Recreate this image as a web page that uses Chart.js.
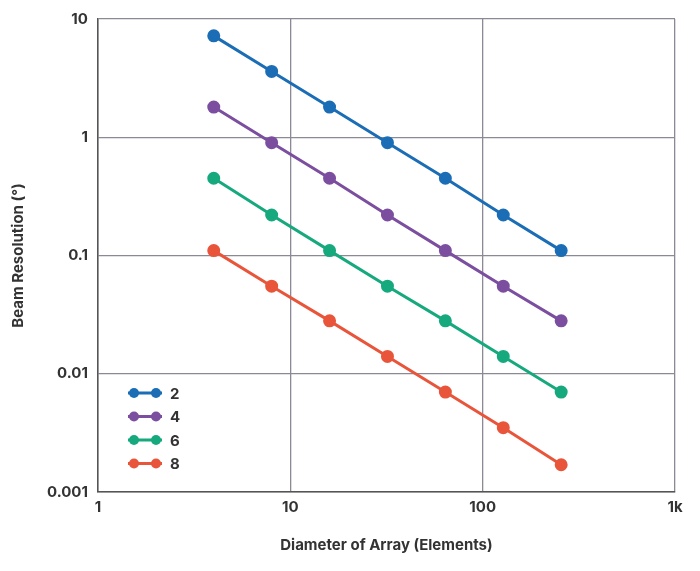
<!DOCTYPE html>
<html><head><meta charset="utf-8">
<script src="https://cdn.jsdelivr.net/npm/chart.js@4"></script>
<style>html,body{margin:0;padding:0;background:#fff}#w{width:700px;height:571px}</style>
</head><body><div id="w"><canvas id="c"></canvas></div>
<script>
const elements=[4,8,16,32,64,128,256];
const seriesNames=["2","4","6","8"];
const s2=[7.2,3.6,1.8,0.9,0.45,0.22,0.11];
const s4=[1.8,0.9,0.45,0.22,0.11,0.055,0.028];
const s6=[0.45,0.22,0.11,0.055,0.028,0.014,0.007];
const s8=[0.11,0.055,0.028,0.014,0.007,0.0035,0.0017];
const colors=["#1b6db5","#7c4e9f","#17a97e","#e9553a"];
const yTicks=[0.001,0.01,0.1,1,10];
const xTicks=[1,10,100,1000];
const xLabels={1:"1",10:"10",100:"100",1000:"1k"};
const all=[s2,s4,s6,s8];
const F="'Inter','Liberation Sans',sans-serif";
const legendPlugin={id:'lg',afterDraw(ch){const c=ch.ctx;c.save();
 all.forEach((_,i)=>{const y=393+i*23.5,x0=128,x1=162;c.strokeStyle=colors[i];c.lineWidth=3;
 c.beginPath();c.moveTo(x0,y);c.lineTo(x1,y);c.stroke();c.fillStyle=colors[i];
 [x0+6,x1-6].forEach(px=>{c.beginPath();c.arc(px,y,5,0,Math.PI*2);c.fill();});
 c.fillStyle="#333";c.font="bold 15px "+F;c.textBaseline="middle";c.fillText(seriesNames[i],170,y+1);});
 c.restore();}};
new Chart(document.getElementById('c'),{type:'line',
data:{datasets:all.map((d,i)=>({label:seriesNames[i],data:elements.map((x,j)=>({x,y:d[j]})),
 borderColor:colors[i],backgroundColor:colors[i],borderWidth:3,pointRadius:5,pointHoverRadius:5}))},
options:{responsive:true,maintainAspectRatio:false,animation:false,
 layout:{padding:{left:5,right:25,top:18,bottom:13}},
 plugins:{legend:{display:false},tooltip:{enabled:false}},
 scales:{
 x:{type:'logarithmic',min:1,max:1000,
  afterBuildTicks:a=>{a.ticks=xTicks.map(v=>({value:v}));},
  ticks:{callback:v=>xLabels[v]||"",color:"#333",font:{family:F,size:15,weight:'bold'},maxRotation:0,padding:6},
  grid:{color:"#8a8a96",lineWidth:1.3,drawTicks:false},border:{color:"#555",width:1.5},
  title:{display:true,text:"Diameter of Array (Elements)",color:"#333",font:{family:F,size:15,weight:'bold'},padding:{top:14}}},
 y:{type:'logarithmic',min:0.001,max:10,
  afterBuildTicks:a=>{a.ticks=yTicks.map(v=>({value:v}));},
  ticks:{callback:v=>String(v),color:"#333",font:{family:F,size:15,weight:'bold'},padding:10},
  grid:{color:"#8a8a96",lineWidth:1.3,drawTicks:false},border:{color:"#555",width:1.5},
  title:{display:true,text:"Beam Resolution (°)",color:"#333",font:{family:F,size:15,weight:'bold'},padding:{bottom:10}}}}},
plugins:[legendPlugin]});
</script></body></html>
